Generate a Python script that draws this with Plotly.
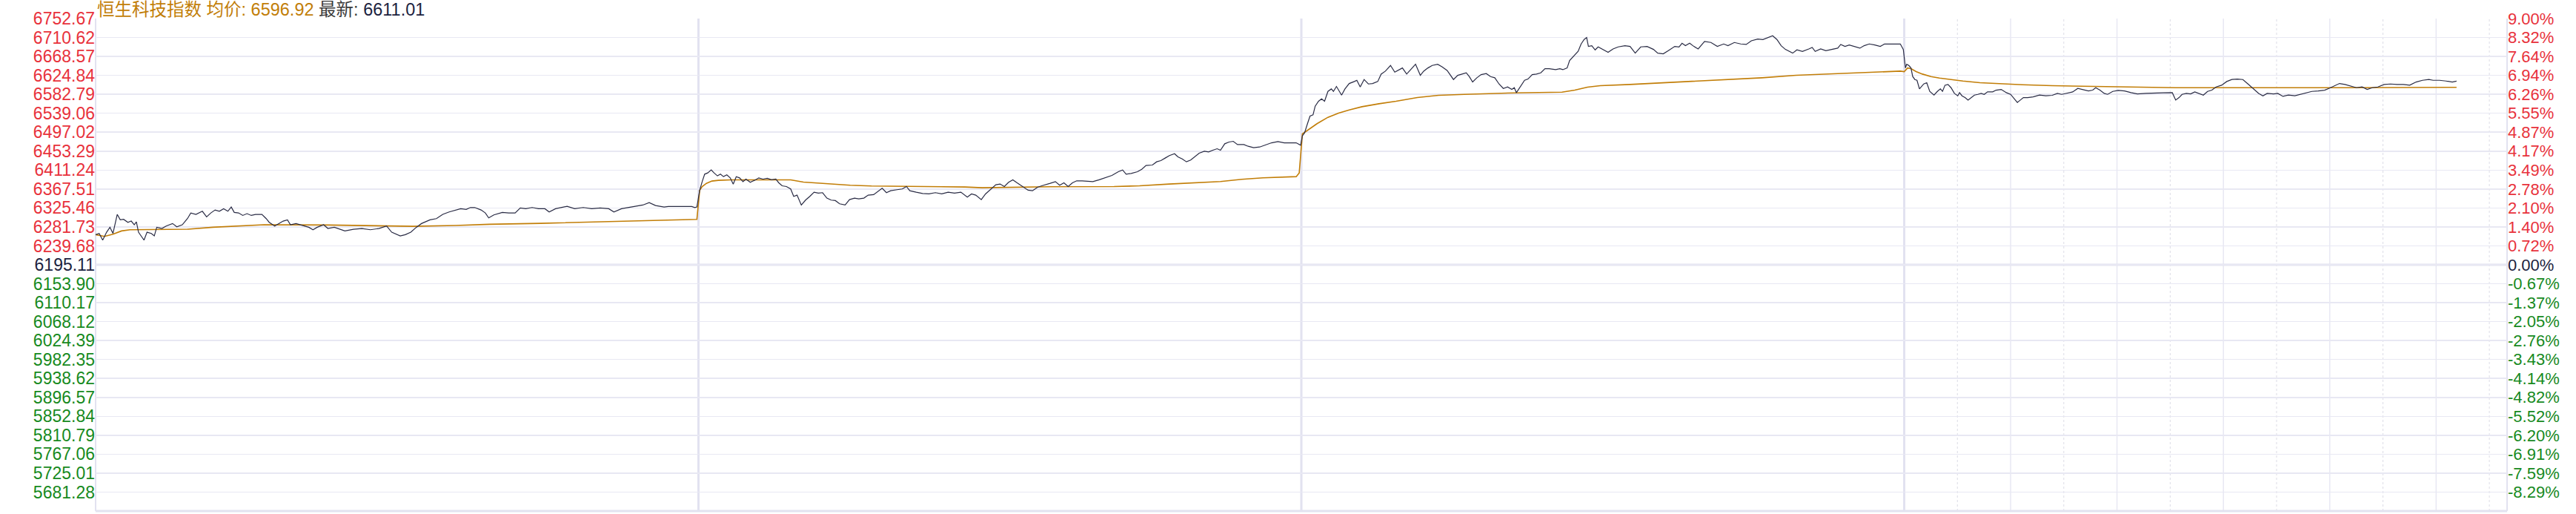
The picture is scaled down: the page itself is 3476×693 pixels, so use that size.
import plotly.graph_objects as go

# ---------------- data ----------------
INDEX_NAME = "恒生科技指数"
AVG_LAST = "6596.92"
PRICE_LAST = "6611.01"
PREV_CLOSE = 6195.11
AXIS_TOP = 6752.67
DAY_MINUTES = 340          # 09:30-12:00, 13:00-16:10
N_DAYS = 4

LEFT_LABELS = ["6752.67", "6710.62", "6668.57", "6624.84", "6582.79", "6539.06", "6497.02",
               "6453.29", "6411.24", "6367.51", "6325.46", "6281.73", "6239.68", "6195.11",
               "6153.90", "6110.17", "6068.12", "6024.39", "5982.35", "5938.62", "5896.57",
               "5852.84", "5810.79", "5767.06", "5725.01", "5681.28"]
RIGHT_LABELS = ["9.00%", "8.32%", "7.64%", "6.94%", "6.26%", "5.55%", "4.87%", "4.17%",
                "3.49%", "2.78%", "2.10%", "1.40%", "0.72%", "0.00%", "-0.67%", "-1.37%",
                "-2.05%", "-2.76%", "-3.43%", "-4.14%", "-4.82%", "-5.52%", "-6.20%",
                "-6.91%", "-7.59%", "-8.29%"]

# (minute of the day, value)
DAY1_PRICE = [(0, 6263.3), (2, 6266.1), (4, 6251.0), (6.2, 6268.9), (8.1, 6280.1), (9.8, 6266.1),
              (12.2, 6309.2), (13.9, 6296.9), (15.8, 6298.0), (18.2, 6291.3), (20.1, 6294.1),
              (21.8, 6285.7), (23.0, 6292.4), (24.2, 6268.9), (27.3, 6251.0), (29.0, 6268.9),
              (31.4, 6266.1), (33.1, 6260.5), (34.5, 6280.1), (37.4, 6277.3), (39.8, 6282.9),
              (43.4, 6288.5), (45.8, 6281.2), (48.9, 6285.7), (51.8, 6299.7), (53.7, 6312.5),
              (56.6, 6309.2), (60.2, 6316.4), (62.6, 6303.6), (65.0, 6312.5), (67.4, 6319.2),
              (69.8, 6316.4), (72.2, 6322.0), (74.6, 6316.4), (76.5, 6325.9), (78.2, 6313.7),
              (80.6, 6312.5), (83.0, 6306.9), (85.4, 6310.9), (87.8, 6306.9), (90.2, 6309.2),
              (93.8, 6309.2), (96.2, 6299.7), (97.9, 6291.3), (101.0, 6282.9), (103.4, 6288.5),
              (105.8, 6294.1), (108.2, 6296.9), (109.9, 6285.7), (113.0, 6288.5), (116.6, 6284.6),
              (120.2, 6280.1), (122.6, 6274.5), (125.0, 6280.1), (128.6, 6285.7), (131.0, 6277.3),
              (134.6, 6280.1), (138.2, 6274.5), (140.6, 6271.7), (145.4, 6275.6), (150.2, 6277.3),
              (155.0, 6274.5), (159.8, 6277.3), (164.1, 6282.9), (167.0, 6268.9), (171.8, 6260.5),
              (174.7, 6263.3), (177.8, 6268.9), (180.9, 6280.1), (183.8, 6288.5), (188.6, 6296.9),
              (192.2, 6299.7), (195.8, 6309.2), (199.4, 6314.8), (203.0, 6319.2), (205.9, 6322.0),
              (209.0, 6320.4), (211.4, 6324.8), (213.8, 6324.8), (217.4, 6319.2), (219.8, 6312.5),
              (221.7, 6301.3), (224.6, 6308.1), (227.0, 6310.9), (229.4, 6313.7), (233.0, 6312.5),
              (236.6, 6312.5), (239.5, 6323.7), (242.6, 6322.0), (246.2, 6324.8), (249.8, 6322.0),
              (253.4, 6322.0), (255.8, 6314.8), (259.4, 6322.0), (263.0, 6324.8), (265.9, 6327.6),
              (270.2, 6322.0), (275.0, 6324.8), (279.8, 6322.0), (284.6, 6323.7), (289.4, 6322.0),
              (292.3, 6314.8), (296.6, 6322.0), (300.2, 6324.8), (303.8, 6327.6), (308.6, 6330.4),
              (312.2, 6336.0), (315.8, 6329.3), (320.6, 6325.9), (323.0, 6327.1), (336.2, 6327.1),
              (337.9, 6324.8), (339.1, 6325.9)]
DAY1_AVG = [(0, 6263.3), (5, 6259.4), (9.8, 6264.4), (14.6, 6271.7), (19.4, 6274.5), (35, 6274.5),
            (51.8, 6275.6), (66.2, 6280.1), (83, 6283.4), (95, 6285.7), (131, 6285.1),
            (155, 6284.0), (179, 6282.3), (203, 6284.0), (222.2, 6286.8), (251, 6289.0),
            (275, 6291.3), (299, 6293.5), (318.2, 6295.2), (337.4, 6296.9), (339.1, 6298.0)]

DAY2_PRICE = [(0.7, 6364.0), (2.1, 6383.5), (3.5, 6400.3), (5.2, 6403.1), (7.2, 6409.8), (8.8, 6403.1),
              (10.7, 6396.4), (12.4, 6400.3), (14.1, 6394.7), (16.0, 6398.6), (17.9, 6391.9),
              (19.6, 6377.9), (21.3, 6394.7), (23.2, 6391.9), (25.1, 6383.5), (26.8, 6389.1),
              (29.2, 6381.9), (31.6, 6386.3), (34.0, 6391.9), (36.4, 6389.1), (38.8, 6390.8),
              (41.2, 6387.5), (43.6, 6389.1), (45.3, 6380.7), (47.2, 6374.0), (49.6, 6372.3),
              (52.0, 6366.8), (53.7, 6350.0), (55.6, 6352.8), (58.0, 6330.4), (60.4, 6341.6),
              (62.8, 6350.0), (65.2, 6359.5), (67.6, 6357.3), (70.0, 6358.4), (72.4, 6346.1),
              (74.8, 6341.6), (77.2, 6340.5), (79.6, 6333.2), (82.7, 6330.4), (85.2, 6342.7),
              (88.0, 6346.1), (90.4, 6344.4), (93.3, 6346.1), (95.7, 6352.8), (98.8, 6353.9),
              (101.2, 6361.2), (103.6, 6368.4), (106.0, 6358.4), (108.4, 6362.8), (112.0, 6365.1),
              (114.9, 6366.8), (117.3, 6372.3), (119.2, 6362.8), (122.8, 6359.5), (126.4, 6356.7),
              (130.0, 6355.6), (133.6, 6358.4), (137.2, 6355.6), (140.8, 6359.5), (144.4, 6357.3),
              (148.0, 6359.5), (151.6, 6348.3), (154.0, 6355.6), (156.4, 6352.8), (159.5, 6342.7),
              (161.9, 6355.6), (164.8, 6366.8), (167.7, 6376.3), (170.1, 6378.0), (172.5, 6372.3),
              (174.9, 6381.9), (177.3, 6387.5), (179.7, 6380.7), (182.8, 6372.3), (185.9, 6364.0),
              (188.4, 6362.8), (191.2, 6370.7), (193.6, 6374.0), (196.0, 6376.3), (198.4, 6379.6),
              (201.3, 6383.5), (203.7, 6375.2), (206.1, 6380.7), (208.5, 6372.3), (210.9, 6380.7),
              (213.3, 6385.2), (216.4, 6385.2), (222.4, 6383.5), (226.0, 6387.5), (229.6, 6391.9),
              (233.2, 6397.5), (236.8, 6405.9), (239.2, 6409.8), (241.2, 6400.3), (244.0, 6402.0),
              (247.6, 6405.9), (250.0, 6411.5), (252.4, 6419.9), (256.0, 6421.0), (258.4, 6428.3),
              (260.8, 6431.1), (263.2, 6436.7), (265.6, 6442.3), (268.5, 6446.7), (270.4, 6439.5),
              (272.8, 6435.0), (275.2, 6428.3), (277.6, 6432.2), (280.0, 6439.5), (282.4, 6447.8),
              (285.3, 6452.3), (287.7, 6450.7), (290.1, 6454.6), (292.5, 6457.9), (294.4, 6454.6),
              (296.8, 6469.1), (299.2, 6473.0), (301.6, 6474.7), (304.0, 6467.4), (307.6, 6467.4),
              (310.0, 6463.5), (313.1, 6460.2), (316.5, 6461.8), (319.6, 6465.8), (323.2, 6471.3),
              (326.8, 6474.1), (330.4, 6471.3), (337.1, 6471.3), (338.8, 6467.4), (339.6, 6465.8)]
DAY2_AVG = [(0.7, 6364.0), (2.1, 6372.3), (4.5, 6379.6), (7.6, 6384.7), (11.2, 6386.3), (18.4, 6387.5),
            (30.4, 6387.5), (52.0, 6387.5), (59.2, 6382.4), (73.6, 6378.0), (85.6, 6375.2),
            (97.6, 6373.5), (114.4, 6372.9), (128.8, 6371.8), (150.4, 6371.2), (160.0, 6369.6),
            (174.4, 6370.7), (198.4, 6371.8), (234.4, 6372.3), (248.8, 6374.0), (265.6, 6378.0),
            (280.0, 6380.7), (294.4, 6383.5), (306.4, 6388.6), (318.4, 6391.9), (337.1, 6394.7),
            (338.8, 6403.1)]

DAY3_PRICE = [(0.6, 6487.0), (1.8, 6493.8), (3.5, 6515.0), (4.9, 6531.8), (6.6, 6534.6), (7.8, 6554.2),
              (9.7, 6565.4), (11.4, 6571.0), (13.1, 6565.4), (15.0, 6587.7), (16.9, 6593.3),
              (18.1, 6587.7), (19.8, 6598.9), (22.7, 6579.3), (24.6, 6593.3), (27.0, 6605.6),
              (29.9, 6610.1), (31.3, 6612.9), (33.2, 6597.8), (35.4, 6614.6), (37.8, 6604.5),
              (40.2, 6605.6), (43.1, 6610.1), (45.0, 6626.9), (47.4, 6633.6), (50.3, 6646.4),
              (52.7, 6631.3), (54.6, 6635.3), (57.0, 6640.8), (59.4, 6626.9), (61.8, 6636.9),
              (64.4, 6649.2), (67.1, 6624.1), (69.0, 6633.6), (71.4, 6640.8), (73.8, 6646.4),
              (76.9, 6649.2), (79.3, 6643.6), (82.2, 6635.3), (85.8, 6614.6), (88.2, 6624.1),
              (90.6, 6626.9), (93.0, 6629.7), (94.7, 6621.3), (96.6, 6609.0), (99.0, 6618.5),
              (101.4, 6625.8), (104.3, 6628.0), (106.7, 6621.3), (109.1, 6618.5), (111.5, 6604.5),
              (113.9, 6594.4), (116.3, 6597.8), (118.7, 6592.2), (120.1, 6596.1), (121.3, 6584.9),
              (123.5, 6598.9), (125.9, 6612.9), (127.8, 6615.7), (130.2, 6625.8), (132.6, 6626.9),
              (135.0, 6629.7), (137.4, 6639.2), (139.8, 6639.2), (143.4, 6636.9), (145.8, 6639.2),
              (147.5, 6636.9), (149.9, 6640.8), (151.3, 6657.6), (153.7, 6668.8), (156.1, 6678.3),
              (157.8, 6695.1), (159.5, 6705.2), (160.9, 6709.6), (161.9, 6689.5), (163.8, 6691.2),
              (165.7, 6681.7), (167.4, 6688.4), (169.8, 6682.8), (173.0, 6676.1), (175.8, 6683.9),
              (178.7, 6688.4), (182.5, 6691.2), (185.4, 6689.5), (188.3, 6674.4), (191.4, 6688.4),
              (195.0, 6689.5), (198.6, 6682.8), (201.0, 6674.4), (204.1, 6672.7), (207.0, 6680.0),
              (210.6, 6689.5), (213.0, 6688.4), (214.7, 6696.8), (216.6, 6691.2), (219.0, 6696.8),
              (221.4, 6689.5), (223.8, 6683.9), (227.4, 6700.7), (231.0, 6698.5), (234.6, 6689.5),
              (238.2, 6695.1), (240.6, 6691.2), (244.2, 6698.5), (247.8, 6695.1), (250.9, 6694.0),
              (253.8, 6702.4), (257.4, 6706.3), (260.3, 6705.2), (262.2, 6708.0), (265.8, 6713.6),
              (268.2, 6705.2), (270.6, 6691.2), (273.0, 6682.8), (277.1, 6674.4), (279.5, 6681.7),
              (282.6, 6678.3), (286.2, 6683.9), (288.1, 6687.3), (289.8, 6678.3), (292.9, 6683.9),
              (295.8, 6680.0), (299.4, 6682.8), (302.5, 6685.6), (304.2, 6694.0), (306.6, 6689.5),
              (309.0, 6692.9), (312.1, 6689.5), (315.0, 6685.6), (317.4, 6691.2), (320.3, 6695.1),
              (323.4, 6692.9), (326.5, 6689.5), (328.9, 6695.1), (337.8, 6695.1), (339.5, 6682.8)]
DAY3_AVG = [(0.6, 6491.5), (4.2, 6501.0), (9.0, 6515.0), (15.0, 6529.0), (21.0, 6538.5), (27.0, 6545.8),
            (34.2, 6553.0), (43.8, 6559.8), (53.4, 6565.4), (65.4, 6573.7), (77.4, 6578.8),
            (91.8, 6581.0), (108.6, 6583.2), (120.6, 6584.4), (147.0, 6586.0), (154.2, 6590.5),
            (161.4, 6597.2), (168.6, 6600.6), (185.4, 6603.4), (204.6, 6607.3), (223.8, 6611.2),
            (240.6, 6614.6), (259.8, 6618.5), (279.0, 6624.1), (300.6, 6628.0), (322.2, 6631.3),
            (337.8, 6633.6)]

DAY4_PRICE = [(0, 6666.0), (0.7, 6640.8), (1.4, 6649.2), (2.6, 6646.4), (3.8, 6640.8), (4.8, 6621.3),
              (6.0, 6614.6), (7.2, 6612.9), (8.6, 6593.3), (9.8, 6598.9), (11.0, 6604.5),
              (12.7, 6607.3), (14.4, 6587.7), (16.8, 6579.3), (18.7, 6587.7), (20.4, 6593.3),
              (21.6, 6587.7), (23.0, 6601.7), (24.7, 6603.4), (26.4, 6596.1), (28.3, 6583.2),
              (30.2, 6577.7), (31.2, 6584.9), (32.6, 6577.7), (34.3, 6573.7), (36.0, 6568.1),
              (37.9, 6573.7), (39.6, 6579.3), (41.5, 6581.0), (43.4, 6583.2), (45.1, 6581.0),
              (47.0, 6586.6), (49.9, 6586.6), (51.8, 6590.5), (54.7, 6592.2), (57.6, 6584.9),
              (60.0, 6581.0), (61.9, 6572.1), (63.8, 6562.6), (65.5, 6568.1), (67.2, 6573.7),
              (69.6, 6573.7), (72.7, 6575.4), (76.3, 6579.3), (79.9, 6577.7), (83.5, 6578.8),
              (86.4, 6583.2), (88.8, 6581.0), (91.9, 6583.2), (95.0, 6586.6), (97.9, 6594.4),
              (100.8, 6592.2), (103.9, 6588.8), (106.3, 6590.5), (108.0, 6596.1), (110.4, 6590.5),
              (112.8, 6583.2), (114.7, 6581.0), (117.6, 6587.7), (120.7, 6589.9), (124.3, 6588.8),
              (127.9, 6584.9), (131.5, 6582.1), (136.3, 6583.2), (141.1, 6583.2), (145.9, 6584.4),
              (151.2, 6584.9), (153.1, 6568.1), (155.0, 6573.7), (156.7, 6581.0), (159.1, 6583.2),
              (161.5, 6582.1), (163.9, 6586.6), (166.3, 6583.2), (168.7, 6579.3), (171.1, 6587.7),
              (173.5, 6590.5), (175.9, 6597.8), (179.0, 6601.7), (181.9, 6610.1), (184.8, 6614.6),
              (187.9, 6615.7), (191.0, 6614.6), (193.9, 6604.5), (196.8, 6594.4), (199.9, 6583.2),
              (202.3, 6577.7), (204.7, 6583.2), (208.3, 6582.1), (210.7, 6583.2), (213.6, 6576.5),
              (216.7, 6579.3), (220.3, 6577.7), (223.9, 6581.0), (227.0, 6584.9), (229.9, 6587.7),
              (233.5, 6588.8), (237.1, 6590.5), (239.5, 6594.4), (242.4, 6600.0), (245.5, 6605.6),
              (248.6, 6603.4), (252.0, 6598.9), (255.1, 6596.1), (258.2, 6597.8), (261.1, 6592.2),
              (264.0, 6596.1), (267.1, 6597.8), (270.7, 6603.4), (274.3, 6604.5), (277.9, 6603.4),
              (281.5, 6603.4), (285.1, 6601.7), (288.7, 6609.0), (292.3, 6612.9), (295.9, 6614.6),
              (298.3, 6612.9), (301.9, 6612.9), (305.5, 6611.2), (309.1, 6609.0), (311.5, 6611.0)]
DAY4_AVG = [(0, 6632.5), (1.9, 6640.8), (3.8, 6639.2), (6.7, 6632.5), (10.3, 6626.9), (15.1, 6621.3),
            (19.9, 6617.9), (25.9, 6614.6), (33.1, 6611.2), (42.7, 6607.3), (54.7, 6604.5),
            (66.7, 6602.8), (83.5, 6600.6), (102.7, 6599.5), (114.7, 6598.3), (138.7, 6597.8),
            (153.1, 6596.1), (177.1, 6596.1), (210.7, 6596.1), (227.5, 6595.0), (239.5, 6595.5),
            (249.1, 6596.1), (311.5, 6596.9)]

DAYS_PRICE = [DAY1_PRICE, DAY2_PRICE, DAY3_PRICE, DAY4_PRICE]
DAYS_AVG = [DAY1_AVG, DAY2_AVG, DAY3_AVG, DAY4_AVG]

# ---------------- styles ----------------
RED = "#e8323c"
GREEN = "#178a1e"
DARK = "#1c2340"
ORANGE = "#c27e08"
PRICE_COLOR = "#2a2c45"
GRID = "#e8e8f3"
FONT = "Liberation Sans, Arial, Noto Sans CJK SC, sans-serif"


def flatten(days):
    xs, ys = [], []
    for d, pts in enumerate(days):
        for m, v in pts:
            xs.append(d * DAY_MINUTES + m)
            ys.append(v)
    return xs, ys


px_, py_ = flatten(DAYS_PRICE)
ax_, ay_ = flatten(DAYS_AVG)

n_up = 13
step = (AXIS_TOP - PREV_CLOSE) / n_up
tickvals = [PREV_CLOSE + step * (n_up - i) for i in range(len(LEFT_LABELS))]
y_lo = PREV_CLOSE - step * n_up
pct_vals = [(v / PREV_CLOSE - 1) * 100 for v in tickvals]
pct_top = (AXIS_TOP / PREV_CLOSE - 1) * 100
pct_lo = (y_lo / PREV_CLOSE - 1) * 100


def colour(i):
    return RED if i < n_up else (DARK if i == n_up else GREEN)


left_text = [f'<span style="color:{colour(i)}">{t}</span>' for i, t in enumerate(LEFT_LABELS)]
right_text = [f'<span style="color:{colour(i)}">{t}</span>' for i, t in enumerate(RIGHT_LABELS)]

fig = go.Figure()
fig.add_trace(go.Scatter(x=ax_, y=ay_, mode="lines", line=dict(color=ORANGE, width=1.6),
                         hoverinfo="skip", showlegend=False))
fig.add_trace(go.Scatter(x=px_, y=py_, mode="lines", line=dict(color=PRICE_COLOR, width=1.2),
                         hoverinfo="skip", showlegend=False))
fig.add_trace(go.Scatter(x=[0, N_DAYS * DAY_MINUTES], y=[pct_lo, pct_top], mode="markers",
                         marker=dict(opacity=0), yaxis="y2", hoverinfo="skip", showlegend=False))

total = N_DAYS * DAY_MINUTES
shapes = []
# day separators
for d in range(1, N_DAYS):
    shapes.append(dict(type="line", xref="x", yref="paper", x0=d * DAY_MINUTES, x1=d * DAY_MINUTES,
                       y0=0, y1=1, line=dict(color="#e2e2f0", width=3), layer="below"))
# half-hour grid on the last day
last0 = (N_DAYS - 1) * DAY_MINUTES
for k in range(1, DAY_MINUTES // 30 + 1):
    xx = last0 + 30 * k
    if k % 2 == 0:
        shapes.append(dict(type="line", xref="x", yref="paper", x0=xx, x1=xx, y0=0, y1=1,
                           line=dict(color=GRID, width=1.5), layer="below"))
    else:
        shapes.append(dict(type="line", xref="x", yref="paper", x0=xx, x1=xx, y0=0, y1=1,
                           line=dict(color="#dcdce6", width=1, dash="dot"), layer="below"))
# previous-close line and frame
shapes.append(dict(type="line", xref="paper", yref="y", x0=0, x1=1, y0=PREV_CLOSE, y1=PREV_CLOSE,
                   line=dict(color="#e2e2f0", width=3), layer="below"))
shapes.append(dict(type="line", xref="paper", yref="paper", x0=0, x1=1, y0=0, y1=0,
                   line=dict(color="#e2e2f0", width=3), layer="below"))
shapes.append(dict(type="line", xref="paper", yref="paper", x0=0, x1=0, y0=0, y1=1,
                   line=dict(color="#e2e2f0", width=2), layer="below"))
shapes.append(dict(type="line", xref="paper", yref="paper", x0=1, x1=1, y0=0, y1=1,
                   line=dict(color="#e2e2f0", width=2), layer="below"))

title = (f'<span style="color:{ORANGE}">{INDEX_NAME} 均价: {AVG_LAST}</span> '
         f'<span style="color:#3a3a3a">最新: </span><span style="color:{DARK}">{PRICE_LAST}</span>')

fig.update_layout(
    width=3476, height=693,
    margin=dict(l=129, r=93, t=25, b=4, autoexpand=False),
    paper_bgcolor="white", plot_bgcolor="white",
    showlegend=False,
    font=dict(family=FONT, size=23),
    shapes=shapes,
    xaxis=dict(range=[0, total], showgrid=False, zeroline=False, showticklabels=False,
               showline=False, ticks="", automargin=False),
    yaxis=dict(range=[y_lo, AXIS_TOP], tickmode="array", tickvals=tickvals, ticktext=left_text,
               showgrid=True, gridcolor=GRID, gridwidth=1.5, zeroline=False, ticks="",
               tickfont=dict(size=23, family=FONT), showline=False, automargin=False),
    yaxis2=dict(range=[pct_lo, pct_top], overlaying="y", side="right", tickmode="array",
                tickvals=pct_vals, ticktext=right_text, showgrid=False, zeroline=False, ticks="",
                tickfont=dict(size=22, family=FONT), showline=False, automargin=False),
    annotations=[dict(text=title, xref="paper", yref="paper", x=0, y=1, xanchor="left",
                      yanchor="bottom", showarrow=False, font=dict(size=23.5, family=FONT),
                      xshift=0, yshift=-3)],
)

fig.write_html("out.html", config={"displayModeBar": False, "staticPlot": True},
               post_script="document.body.style.margin='0';document.body.style.overflow='hidden';")
